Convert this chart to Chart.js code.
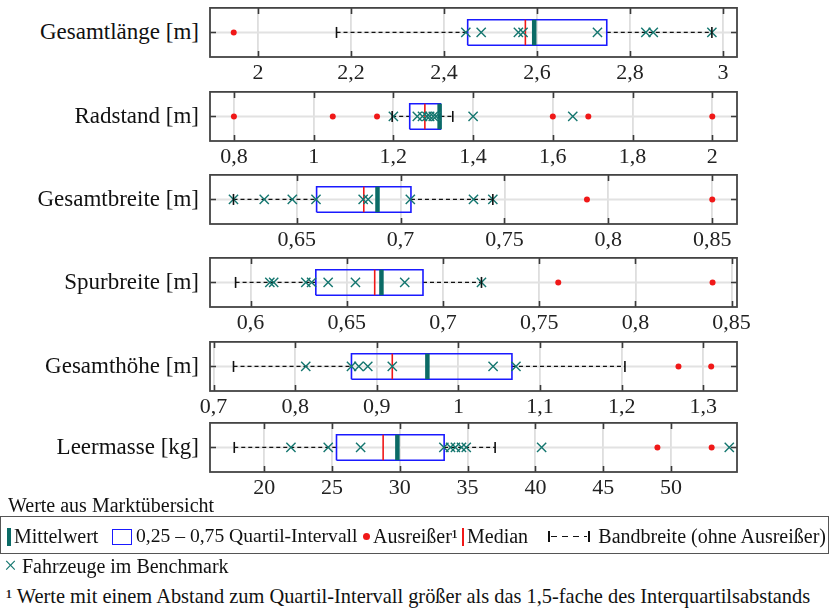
<!DOCTYPE html>
<html><head><meta charset="utf-8">
<script src="https://cdn.jsdelivr.net/npm/chart.js@4/dist/chart.umd.min.js"></script>
<style>
body{margin:0;width:830px;height:612px;background:#fff;position:relative;overflow:hidden;font-family:"Liberation Serif","DejaVu Serif",serif;color:#111}
canvas{position:absolute;left:0}
.lbl{position:absolute;left:0;width:199px;text-align:right;font-size:23px;line-height:51px;height:51px;white-space:nowrap}
.t{position:absolute;font-size:20px;white-space:nowrap}
.s{position:absolute}
</style>
</head><body>
<script>
// ---------- data ----------
const categories = ["Gesamtlänge [m]","Radstand [m]","Gesamtbreite [m]","Spurbreite [m]","Gesamthöhe [m]","Leermasse [kg]"];
const whiskerLow  = [2.169, 1.197, 0.6196, 0.5922, 0.7245, 17.79];
const quartile1   = [2.451, 1.241, 0.6596, 0.6339, 0.869, 25.33];
const medians     = [2.575, 1.279, 0.6823, 0.6645, 0.919, 28.77];
const means       = [2.594, 1.316, 0.6889, 0.668, 0.962, 29.82];
const quartile3   = [2.75, 1.318, 0.705, 0.6896, 1.0656, 33.27];
const whiskerHigh = [2.976, 1.349, 0.7444, 0.72, 1.204, 37.03];
const outliers = [
  [1.948],
  [0.8, 1.048, 1.159, 1.6, 1.689, 2.0],
  [0.7897, 0.85],
  [0.7599, 0.8401],
  [1.2696, 1.3097],
  [49.0, 53.0]
];
const benchmark = [
  [2.447, 2.48, 2.56, 2.57, 2.73, 2.834, 2.85, 2.976],
  [1.2, 1.26, 1.273, 1.284, 1.291, 1.3, 1.307, 1.4, 1.65],
  [0.6196, 0.6344, 0.6479, 0.6593, 0.682, 0.6844, 0.7047, 0.7351, 0.7444],
  [0.61, 0.612, 0.6287, 0.6317, 0.6403, 0.6545, 0.6801, 0.72],
  [0.813, 0.869, 0.878, 0.889, 0.919, 1.0425, 1.0705],
  [21.97, 24.72, 27.11, 33.25, 33.74, 34.1, 34.55, 34.9, 40.46, 54.3]
];
const axisMin = [1.897, 0.74, 0.6083, 0.5789, 0.6957, 16.0];
const axisMax = [3.03, 2.062, 0.8619, 0.8528, 1.3413, 54.87];
const tickLabels = [
  [2, 2.2, 2.4, 2.6, 2.8, 3],
  [0.8, 1, 1.2, 1.4, 1.6, 1.8, 2],
  [0.65, 0.7, 0.75, 0.8, 0.85],
  [0.6, 0.65, 0.7, 0.75, 0.8, 0.85],
  [0.7, 0.8, 0.9, 1, 1.1, 1.2, 1.3],
  [20, 25, 30, 35, 40, 45, 50]
];

// ---------- styling ----------
const frameTops = [6, 90, 173, 256, 340, 421];
const FONT = '"Liberation Serif", "DejaVu Serif", serif';
const TEAL = '#14766f', TEAL_D = '#0b6b66', BLUE = '#1a1aff', RED = '#f01818';
const BOXH = 0.52;

const framePlugin = {
  id: 'frame',
  afterDraw(chart) {
    const {ctx, chartArea: a} = chart;
    const xs = chart.scales.x;
    ctx.save();
    ctx.strokeStyle = '#3a3a3a';
    ctx.lineWidth = 1.6;
    ctx.beginPath();
    xs.ticks.forEach(t => {
      const px = Math.round(xs.getPixelForValue(t.value)) + 0.5;
      ctx.moveTo(px, a.top); ctx.lineTo(px, a.top + 6);
      ctx.moveTo(px, a.bottom); ctx.lineTo(px, a.bottom - 6);
    });
    const cy = chart.scales.y.getPixelForValue(0);
    ctx.moveTo(a.left, cy); ctx.lineTo(a.left + 6, cy);
    ctx.moveTo(a.right, cy); ctx.lineTo(a.right - 6, cy);
    ctx.stroke();
    ctx.lineWidth = 1.8;
    ctx.strokeStyle = '#444';
    ctx.strokeRect(a.left, a.top, a.right - a.left, a.bottom - a.top);
    ctx.restore();
  }
};

const fmt = v => String(v).replace('.', ',');

categories.forEach((cat, i) => {
  const lab = document.createElement('div');
  lab.className = 'lbl';
  lab.style.top = frameTops[i] + 'px';
  lab.textContent = cat;
  document.body.appendChild(lab);

  const cv = document.createElement('canvas');
  cv.width = 830; cv.height = 92;
  cv.style.top = (frameTops[i] - 6) + 'px';
  document.body.appendChild(cv);

  const lineDS = (data, color, width, order, dash) => ({
    type: 'scatter', data, showLine: true, borderColor: color, borderWidth: width,
    pointRadius: 0, borderDash: dash || [], order, fill: false
  });

  const datasets = [
    lineDS([{x: axisMin[i], y: 0}, {x: axisMax[i], y: 0}], '#e2e2e2', 2, 20),
    lineDS([{x: whiskerLow[i], y: 0}, {x: quartile1[i], y: 0}], '#111', 1.3, 9, [4, 3]),
    lineDS([{x: quartile3[i], y: 0}, {x: whiskerHigh[i], y: 0}], '#111', 1.3, 9, [4, 3]),
    {type: 'scatter', data: [{x: whiskerLow[i], y: 0}, {x: whiskerHigh[i], y: 0}],
     pointStyle: 'line', rotation: 90, pointRadius: 5.5, borderColor: '#111', borderWidth: 1.6,
     backgroundColor: '#111', order: 1},
    lineDS([{x: quartile1[i], y: -BOXH}, {x: quartile3[i], y: -BOXH}, {x: quartile3[i], y: BOXH},
            {x: quartile1[i], y: BOXH}, {x: quartile1[i], y: -BOXH}], BLUE, 1.6, 7),
    lineDS([{x: medians[i], y: -BOXH}, {x: medians[i], y: BOXH}], RED, 1.6, 6),
    lineDS([{x: means[i], y: -BOXH}, {x: means[i], y: BOXH}], TEAL_D, 4.5, 5),
    {type: 'scatter', data: outliers[i].map(v => ({x: v, y: 0})), pointStyle: 'circle',
     pointRadius: 3, backgroundColor: RED, borderColor: RED, borderWidth: 0, order: 4},
    {type: 'scatter', data: benchmark[i].map(v => ({x: v, y: 0})), pointStyle: 'crossRot',
     pointRadius: 6.5, borderColor: TEAL, borderWidth: 1.4, backgroundColor: TEAL, order: 2}
  ];

  new Chart(cv.getContext('2d'), {
    type: 'scatter',
    data: {datasets},
    options: {
      responsive: false, animation: false, devicePixelRatio: 1,
      layout: {padding: {left: 210, right: 93, top: 6, bottom: 3}},
      plugins: {legend: {display: false}, tooltip: {enabled: false}},
      elements: {line: {tension: 0}},
      scales: {
        x: {
          type: 'linear', min: axisMin[i], max: axisMax[i],
          afterBuildTicks: s => { s.ticks = tickLabels[i].map(v => ({value: v})); },
          afterFit: s => { s.height = 32; },
          ticks: {font: {family: FONT, size: 22}, color: '#222', padding: 3,
                  maxRotation: 0, autoSkip: false, callback: v => fmt(v)},
          grid: {color: '#dedede', lineWidth: 1.8, drawTicks: false},
          border: {display: false}
        },
        y: {display: false, min: -1, max: 1}
      }
    },
    plugins: [framePlugin]
  });
});
</script>

<div class="t" style="left:8px;top:494px;">Werte aus Marktübersicht</div>
<div class="s" style="left:0;top:516px;width:827px;height:36px;border:1px solid #555;"></div>
<!-- legend row -->
<div class="s" style="left:7px;top:528px;width:4px;height:18px;background:#0b6b66"></div>
<div class="t" style="left:14px;top:525px;">Mittelwert</div>
<div class="s" style="left:112px;top:529px;width:18px;height:14px;border:1.5px solid #1a1aff"></div>
<div class="t" style="left:136px;top:525px;font-size:19.6px;">0,25 – 0,75 Quartil-Intervall</div>
<div class="s" style="left:363px;top:533px;width:7px;height:7px;border-radius:50%;background:#f01818"></div>
<div class="t" style="left:373px;top:525px;">Ausreißer¹</div>
<div class="s" style="left:462px;top:528px;width:1.6px;height:18px;background:#f01818"></div>
<div class="t" style="left:467px;top:525px;">Median</div>
<div class="s" style="left:548px;top:531px;width:1.5px;height:11px;background:#111"></div>
<div class="s" style="left:551px;top:536px;width:36px;height:1.4px;background:repeating-linear-gradient(90deg,#111 0 6px,transparent 6px 11px)"></div>
<div class="s" style="left:588px;top:531px;width:1.5px;height:11px;background:#111"></div>
<div class="t" style="right:4px;top:525px;">Bandbreite (ohne Ausreißer)</div>
<!-- benchmark row -->
<div class="t" style="left:4px;top:553px;color:#14766f;font-size:23px;">×</div>
<div class="t" style="left:22px;top:555px;">Fahrzeuge im Benchmark</div>
<div class="t" style="left:6px;top:585px;font-size:20.4px;">¹ Werte mit einem Abstand zum Quartil-Intervall größer als das 1,5-fache des Interquartilsabstands</div>
</body></html>
